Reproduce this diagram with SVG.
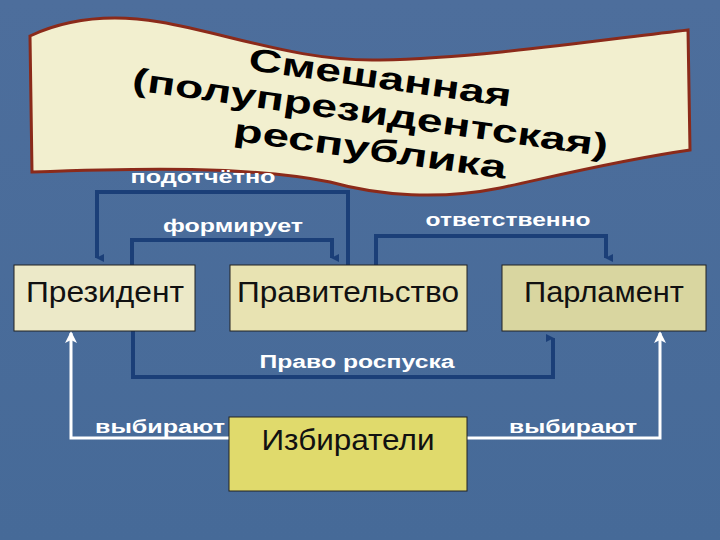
<svg xmlns="http://www.w3.org/2000/svg" width="720" height="540" viewBox="0 0 720 540">
<defs>
<linearGradient id="bg" x1="0" y1="0" x2="0" y2="1"><stop offset="0" stop-color="#4d6e9c"/><stop offset="1" stop-color="#466a98"/></linearGradient>
<marker id="ab" markerWidth="8" markerHeight="8" refX="4" refY="7" orient="auto-start-reverse" markerUnits="userSpaceOnUse" viewBox="0 0 8 8"><path d="M0,0 L8,0 L4,8 Z" fill="#1b3f78"/></marker>
<marker id="aw" markerWidth="12" markerHeight="12" refX="10" refY="6" orient="auto" markerUnits="userSpaceOnUse" viewBox="0 0 12 12"><path d="M0,0 L12,6 L0,12 L3,6 Z" fill="#ffffff"/></marker>
<style>
.box{stroke:#222;stroke-width:1}
.bt{font-family:"Liberation Sans",Arial,sans-serif;font-size:29px;fill:#111;text-anchor:middle}
.lbl{font-family:"Liberation Sans",Arial,sans-serif;font-weight:bold;font-size:18px;fill:#fff;text-anchor:middle}
.dk{fill:none;stroke:#1b3f78;stroke-width:4}
.wh{fill:none;stroke:#fff;stroke-width:3}
.tt{font-family:"Liberation Sans",Arial,sans-serif;font-weight:bold;font-size:32px;fill:#000;text-anchor:middle}
</style>
</defs>
<rect width="720" height="540" fill="url(#bg)"/>
<g id="banner">
<path d="M30,36 C60,22 100,12 160,22 C230,34 300,62 380,60 C480,58 600,40 688,30 L690,150 C620,160 560,175 500,188 C440,200 380,196 330,182 C250,166 140,168 32,172 Z" fill="#f2efcf" stroke="#8b2a1a" stroke-width="3"/>
<g transform="rotate(8 375 115)">
<text class="tt" x="375" y="88" textLength="265" lengthAdjust="spacingAndGlyphs">Смешанная</text>
<text class="tt" x="370" y="124" textLength="480" lengthAdjust="spacingAndGlyphs">(полупрезидентская)</text>
<text class="tt" x="375" y="160" textLength="275" lengthAdjust="spacingAndGlyphs">республика</text>
</g>
</g>
<g id="connectors">
<path class="dk" d="M348,265 V192 H97 V258" marker-end="url(#ab)"/>
<path class="dk" d="M132,265 V240 H332 V258" marker-end="url(#ab)"/>
<path class="dk" d="M376,265 V236 H606 V258" marker-end="url(#ab)"/>
<path class="dk" d="M133,331 V377 H553 V338" marker-end="url(#ab)"/>
<path class="wh" d="M229,438 H71 V333" marker-end="url(#aw)"/>
<path class="wh" d="M467,438 H660 V333" marker-end="url(#aw)"/>
<text class="lbl" x="203" y="183" textLength="145" lengthAdjust="spacingAndGlyphs">подотчётно</text>
<text class="lbl" x="233" y="232" textLength="140" lengthAdjust="spacingAndGlyphs">формирует</text>
<text class="lbl" x="508" y="226" textLength="165" lengthAdjust="spacingAndGlyphs">ответственно</text>
<text class="lbl" x="357" y="368" textLength="195" lengthAdjust="spacingAndGlyphs">Право роспуска</text>
<text class="lbl" x="160" y="433" textLength="130" lengthAdjust="spacingAndGlyphs">выбирают</text>
<text class="lbl" x="573" y="433" textLength="128" lengthAdjust="spacingAndGlyphs">выбирают</text>
</g>
<g id="president"><rect class="box" x="14" y="265" width="181" height="66" fill="#ece9c8"/><text class="bt" x="105" y="302" textLength="158" lengthAdjust="spacingAndGlyphs">Президент</text></g>
<g id="government"><rect class="box" x="230" y="265" width="237" height="66" fill="#e8e3b2"/><text class="bt" x="348" y="302" textLength="222" lengthAdjust="spacingAndGlyphs">Правительство</text></g>
<g id="parliament"><rect class="box" x="502" y="265" width="204" height="66" fill="#d9d6a0"/><text class="bt" x="604" y="302" textLength="160" lengthAdjust="spacingAndGlyphs">Парламент</text></g>
<g id="voters"><rect class="box" x="229" y="417" width="238" height="74" fill="#e0da6c"/><text class="bt" x="348" y="450" textLength="173" lengthAdjust="spacingAndGlyphs">Избиратели</text></g>
</svg>
